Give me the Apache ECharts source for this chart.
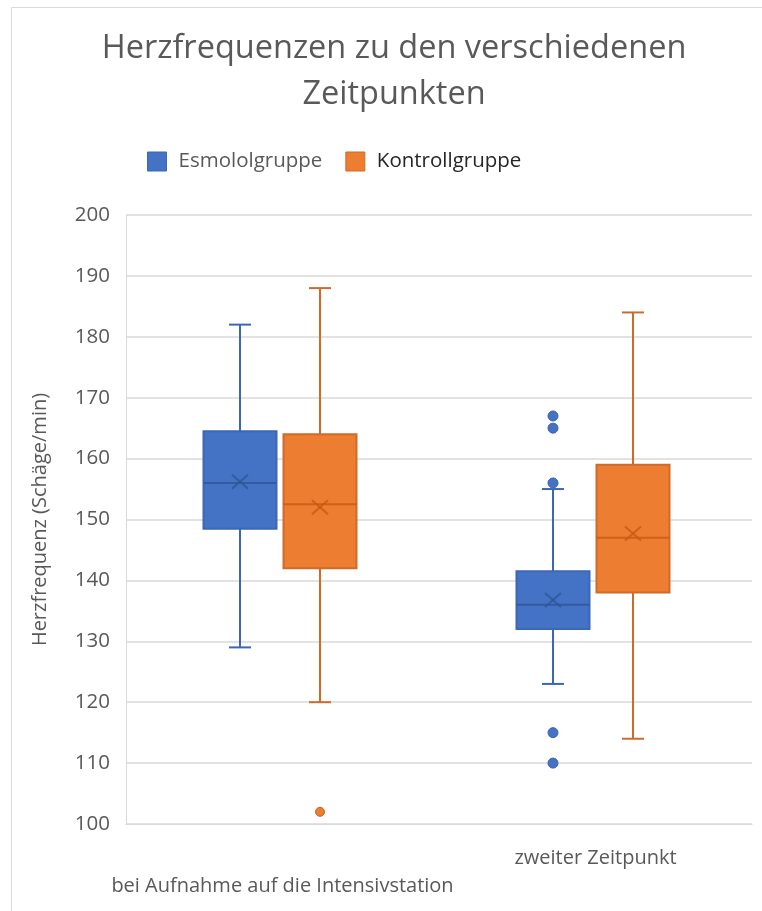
<!DOCTYPE html>
<html>
<head>
<meta charset="utf-8">
<script src="https://cdn.jsdelivr.net/npm/echarts@6/dist/echarts.min.js"></script>
<style>
html,body{margin:0;padding:0;background:#fff;}
#chart{width:762px;height:911px;}
</style>
</head>
<body>
<div id="chart"></div>
<script>
// ---- data ----
const categories = ['bei Aufnahme auf die Intensivstation', 'zweiter Zeitpunkt'];
const seriesNames = ['Esmololgruppe', 'Kontrollgruppe'];
// [min, Q1, median, Q3, max, mean] per category
const esmololStats = [
  [129, 148.5, 156, 164.5, 182, 156.2],
  [123, 132, 136, 141.5, 155, 136.8]
];
const kontrollStats = [
  [120, 142, 152.5, 164, 188, 152],
  [114, 138, 147, 159, 184, 147.7]
];
// outliers: [categoryIndex, value]
const esmololOutliers = [[1, 167], [1, 165], [1, 156], [1, 115], [1, 110]];
const kontrollOutliers = [[0, 102]];
const yTicks = [100, 110, 120, 130, 140, 150, 160, 170, 180, 190, 200];

// ---- styles ----
const BOX_W = 73, CAP_W = 22;
const styles = [
  {fill: '#4472c4', line: '#3c67b4', mean: '#2f5597', dot: '#4472c4', dotBorder: '#3a64ad', off: -42.5},
  {fill: '#ed7d31', line: '#cf6b2a', mean: '#c55a11', dot: '#ed7d31', dotBorder: '#c9631f', off: 37.5}
];

function makeRender(st) {
  return function (params, api) {
    const c = api.value(0);
    const pMin = api.coord([c, api.value(1)]);
    const pQ1 = api.coord([c, api.value(2)]);
    const pMed = api.coord([c, api.value(3)]);
    const pQ3 = api.coord([c, api.value(4)]);
    const pMax = api.coord([c, api.value(5)]);
    const pMean = api.coord([c, api.value(6)]);
    const x = pMin[0] + st.off;
    const lineStyle = {stroke: st.line, lineWidth: 2, fill: null};
    const children = [
      {type: 'line', shape: {x1: x, y1: pQ3[1], x2: x, y2: pMax[1]}, style: lineStyle},
      {type: 'line', shape: {x1: x, y1: pQ1[1], x2: x, y2: pMin[1]}, style: lineStyle},
      {type: 'line', shape: {x1: x - CAP_W / 2, y1: pMax[1], x2: x + CAP_W / 2, y2: pMax[1]}, style: lineStyle},
      {type: 'line', shape: {x1: x - CAP_W / 2, y1: pMin[1], x2: x + CAP_W / 2, y2: pMin[1]}, style: lineStyle},
      {type: 'rect', shape: {x: x - BOX_W / 2, y: pQ3[1], width: BOX_W, height: pQ1[1] - pQ3[1]},
        style: {fill: st.fill, stroke: st.line, lineWidth: 2}},
      {type: 'line', shape: {x1: x - BOX_W / 2, y1: pMed[1], x2: x + BOX_W / 2, y2: pMed[1]},
        style: {stroke: st.mean, lineWidth: 2, opacity: 0.8}},
      {type: 'line', shape: {x1: x - 8, y1: pMean[1] - 7, x2: x + 8, y2: pMean[1] + 7},
        style: {stroke: st.mean, lineWidth: 2, opacity: 0.8}},
      {type: 'line', shape: {x1: x - 8, y1: pMean[1] + 7, x2: x + 8, y2: pMean[1] - 7},
        style: {stroke: st.mean, lineWidth: 2, opacity: 0.8}}
    ];
    return {type: 'group', children: children};
  };
}

function toItems(stats) {
  return stats.map((s, i) => [i, s[0], s[1], s[2], s[3], s[4], s[5]]);
}

const chart = echarts.init(document.getElementById('chart'), null, {renderer: 'canvas'});
const FONT = 'Open Sans';
const option = {
  backgroundColor: '#fff',
  animation: false,
  textStyle: {fontFamily: FONT},
  graphic: [{
    type: 'rect', z: -10, silent: true,
    shape: {x: 11.5, y: 7.5, width: 900, height: 1000},
    style: {fill: null, stroke: '#d9d9d9', lineWidth: 1}
  }],
  title: {
    text: 'Herzfrequenzen zu den verschiedenen\nZeitpunkten',
    left: 389, textAlign: 'center', top: 21,
    textStyle: {fontFamily: FONT, fontSize: 32.5, fontWeight: 'normal', color: '#595959', lineHeight: 46}
  },
  legend: {
    left: 142, top: 146, itemWidth: 19, itemHeight: 19, itemGap: 23,
    icon: 'rect',
    data: [
      {name: seriesNames[0], itemStyle: {color: styles[0].fill, borderColor: styles[0].line, borderWidth: 1},
        textStyle: {color: '#595959'}},
      {name: seriesNames[1], itemStyle: {color: styles[1].fill, borderColor: styles[1].line, borderWidth: 1},
        textStyle: {color: '#262626'}}
    ],
    textStyle: {fontFamily: FONT, fontSize: 20.5, padding: [0, 0, 0, 7]}
  },
  grid: {left: 126, right: 10, top: 215, bottom: 87, containLabel: false, outerBoundsMode: 'none'},
  xAxis: {
    type: 'category', data: categories, boundaryGap: true,
    axisLine: {show: true, lineStyle: {color: '#d9d9d9', width: 1}},
    axisTick: {show: false},
    axisLabel: {
      interval: 0, margin: 20, color: '#595959', fontFamily: FONT, fontSize: 20, lineHeight: 28,
      formatter: (v, i) => (i === 0 ? '\n' + v : v),
      hideOverlap: false
    }
  },
  yAxis: {
    type: 'value', min: yTicks[0], max: yTicks[yTicks.length - 1], interval: 10,
    name: 'Herzfrequenz (Schäge/min)', nameLocation: 'middle', nameGap: 76, nameRotate: 90,
    nameTextStyle: {fontFamily: FONT, fontSize: 20, color: '#595959'},
    axisLine: {show: true, lineStyle: {color: '#d9d9d9', width: 1}},
    axisTick: {show: false},
    axisLabel: {margin: 16, color: '#595959', fontFamily: FONT, fontSize: 20.5},
    splitLine: {show: true, lineStyle: {color: '#d9d9d9', width: 1.5}}
  },
  series: [
    {name: seriesNames[0], type: 'custom', renderItem: makeRender(styles[0]),
      itemStyle: {color: styles[0].fill}, encode: {x: 0, y: [1, 2, 3, 4, 5, 6]},
      data: toItems(esmololStats), z: 3},
    {name: seriesNames[1], type: 'custom', renderItem: makeRender(styles[1]),
      itemStyle: {color: styles[1].fill}, encode: {x: 0, y: [1, 2, 3, 4, 5, 6]},
      data: toItems(kontrollStats), z: 3},
    {name: seriesNames[0], type: 'custom', z: 4,
      renderItem: function (params, api) {
        const p = api.coord([api.value(0), api.value(1)]);
        return {type: 'circle', shape: {cx: p[0] + styles[0].off, cy: p[1], r: 5},
          style: {fill: styles[0].dot, stroke: styles[0].dotBorder, lineWidth: 1}};
      },
      itemStyle: {color: styles[0].fill}, encode: {x: 0, y: 1}, data: esmololOutliers},
    {name: seriesNames[1], type: 'custom', z: 4,
      renderItem: function (params, api) {
        const p = api.coord([api.value(0), api.value(1)]);
        return {type: 'circle', shape: {cx: p[0] + styles[1].off, cy: p[1], r: 4.5},
          style: {fill: styles[1].dot, stroke: styles[1].dotBorder, lineWidth: 1}};
      },
      itemStyle: {color: styles[1].fill}, encode: {x: 0, y: 1}, data: kontrollOutliers}
  ]
};
chart.setOption(option);
</script>
</body>
</html>
